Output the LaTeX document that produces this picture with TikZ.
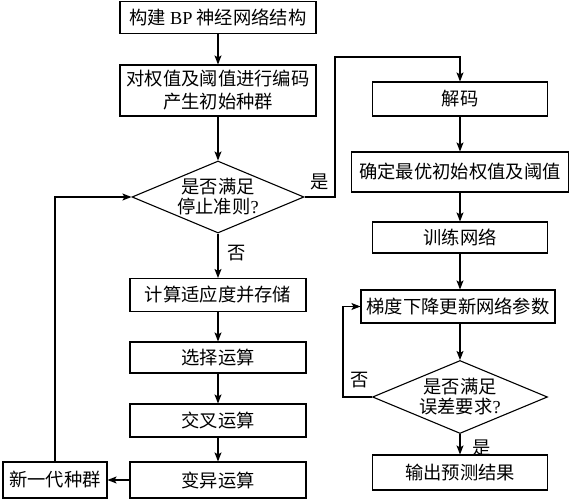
\documentclass[tikz,border=0pt]{standalone}
\usepackage{fontspec}
\setmainfont{Liberation Serif}
\newfontfamily\cjk{Noto Sans CJK SC}
\usetikzlibrary{arrows.meta,shapes.geometric}
\tikzset{
  box/.style={draw, line width=1.1pt, rectangle, inner sep=0pt, align=center},
  dia/.style={draw, line width=1.1pt, diamond, inner sep=0pt},
  txt/.style={font=\cjk\fontsize{18.3}{20}\selectfont, align=center},
  lbl/.style={font=\cjk\fontsize{18.3}{20}\selectfont, inner sep=0pt},
  arr/.style={line width=1.1pt, -{Stealth[length=9pt,width=7pt,inset=2pt]}},
  ln/.style={line width=1.1pt}
}
\begin{document}
\begin{tikzpicture}[x=1pt,y=-1pt]
\useasboundingbox (0,0) rectangle (571,500);
% left column
\node[box, txt, minimum width=196, minimum height=32] (b1) at (218,17.5) {构建 {\rmfamily BP} 神经网络结构};
\node[box, txt, minimum width=196, minimum height=51, font=\cjk\fontsize{18.3}{23}\selectfont] (b2) at (218,90.5) {对权值及阈值进行编码\\产生初始种群};
\node[dia, minimum width=172, minimum height=72] (d1) at (218,197) {};
\node[txt] (d1t) at (d1.center) {是否满足\\停止准则{\rmfamily ?}};
\node[box, txt, minimum width=176, minimum height=33] (b3) at (218,295) {计算适应度并存储};
\node[box, txt, minimum width=176, minimum height=31] (b4) at (218,357.5) {选择运算};
\node[box, txt, minimum width=176, minimum height=33] (b5) at (218,420.5) {交叉运算};
\node[box, txt, minimum width=176, minimum height=36] (b6) at (218,480) {变异运算};
\node[box, txt, minimum width=104, minimum height=36] (b7) at (55,480) {新一代种群};
% right column
\node[box, txt, minimum width=175, minimum height=34] (r1) at (460,99) {解码};
\node[box, txt, minimum width=217, minimum height=40] (r2) at (460,172) {确定最优初始权值及阈值};
\node[box, txt, minimum width=175, minimum height=31] (r3) at (460,237.5) {训练网络};
\node[box, txt, minimum width=194, minimum height=33] (r4) at (458,306.5) {梯度下降更新网络参数};
\node[dia, minimum width=175, minimum height=73] (d2) at (460,397) {};
\node[txt] (d2t) at (d2.center) {是否满足\\误差要求{\rmfamily ?}};
\node[box, txt, minimum width=175, minimum height=35] (r5) at (460,472.5) {输出预测结果};
% connectors
\draw[arr] (b1) -- (b2);
\draw[arr] (b2) -- (d1);
\draw[arr] (d1) -- (b3);
\draw[arr] (b3) -- (b4);
\draw[arr] (b4) -- (b5);
\draw[arr] (b5) -- (b6);
\draw[arr] (b6) -- (b7);
\draw[arr] (b7.north) |- (d1.west);
\coordinate (c1) at (335,57);
\draw[arr] (d1.east) -| (c1) -| (r1.north);
\draw[arr] (r1) -- (r2);
\draw[arr] (r2) -- (r3);
\draw[arr] (r3.south) -- (r3.south |- r4.north);
\draw[arr] (r4.south -| d2.north) -- (d2.north);
\coordinate (c2) at (343,397);
\draw[arr] (d2.west) -- (c2) |- (r4.west);
\draw[arr] (d2) -- (r5);
% labels
\node[lbl] (l1) at (320,182) {是};
\node[lbl] (l2) at (237,253) {否};
\node[lbl] (l3) at (360,380) {否};
\node[lbl] (l4) at (482,448) {是};
\end{tikzpicture}
\end{document}
